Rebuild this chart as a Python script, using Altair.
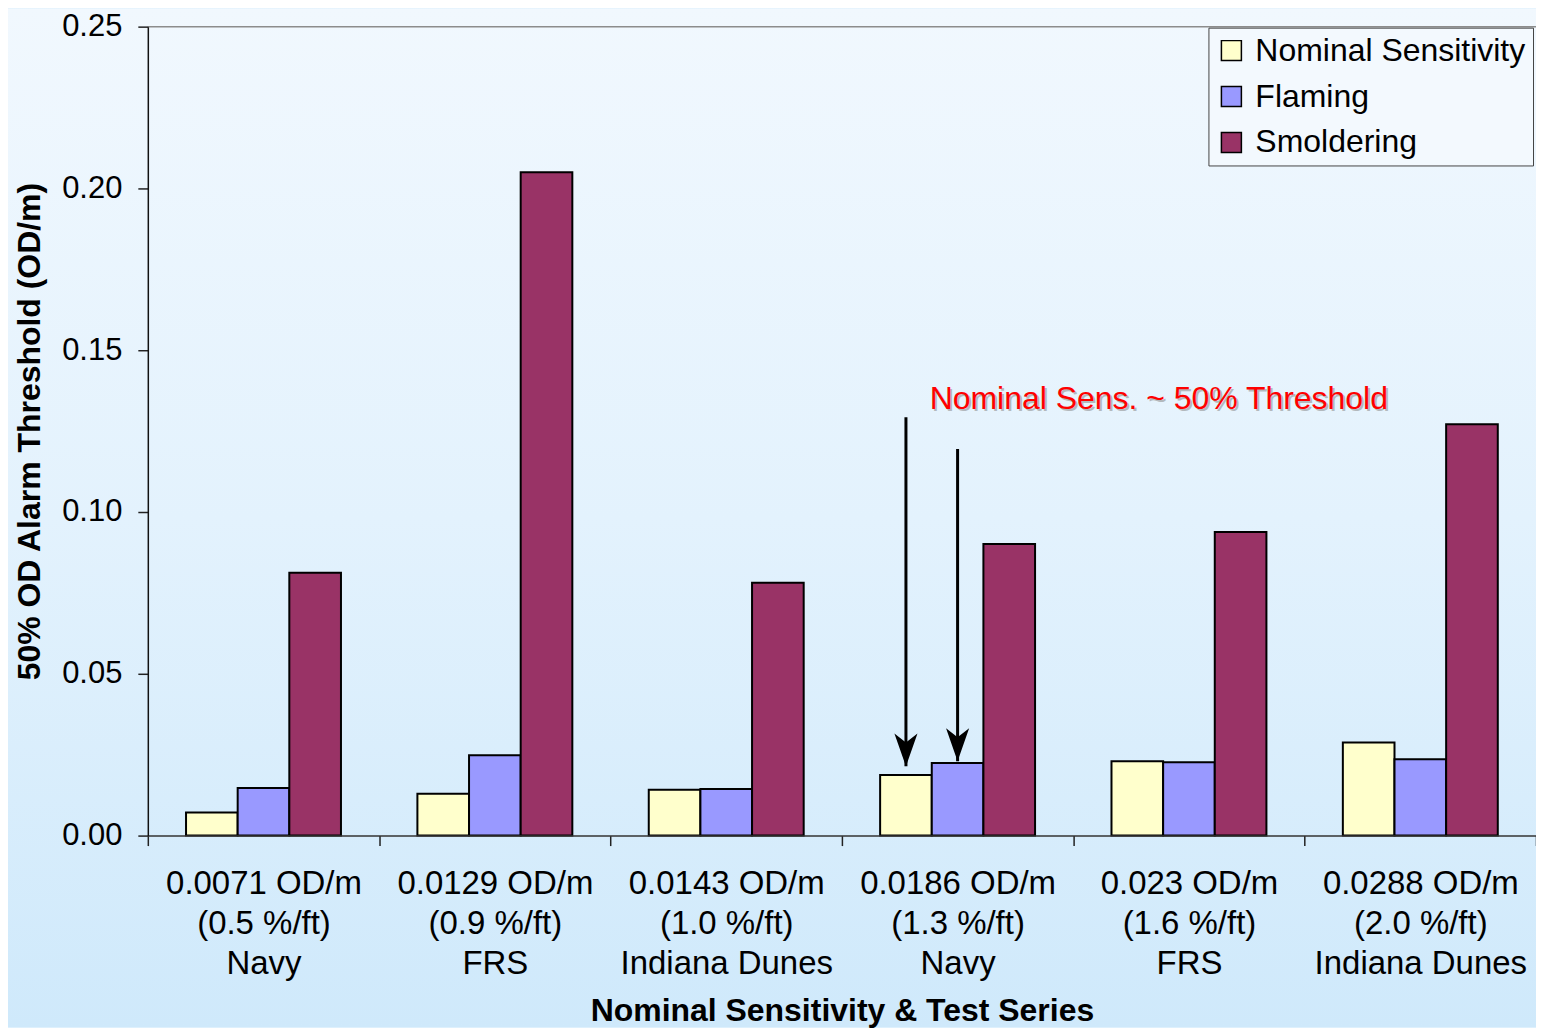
import altair as alt
import pandas as pd

categories = [
    "0.0071 OD/m|(0.5 %/ft)|Navy",
    "0.0129 OD/m|(0.9 %/ft)|FRS",
    "0.0143 OD/m|(1.0 %/ft)|Indiana Dunes",
    "0.0186 OD/m|(1.3 %/ft)|Navy",
    "0.023 OD/m|(1.6 %/ft)|FRS",
    "0.0288 OD/m|(2.0 %/ft)|Indiana Dunes",
]
series = ["Nominal Sensitivity", "Flaming", "Smoldering"]
colors = ["#FFFFCC", "#9999FF", "#993366"]

nominal = [0.0071, 0.0129, 0.0142, 0.0187, 0.0230, 0.0288]
flaming = [0.0147, 0.0248, 0.0144, 0.0224, 0.0227, 0.0236]
smoldering = [0.0812, 0.2050, 0.0781, 0.0901, 0.0938, 0.1271]

y_ticks = [0.0, 0.05, 0.10, 0.15, 0.20, 0.25]

# annotation arrows (category, series, start value, tip value)
arrow_cat = [categories[3], categories[3]]
arrow_series = ["Nominal Sensitivity", "Flaming"]
arrow_top = [0.1293, 0.1195]
arrow_tip = [0.0214, 0.0230]

note_text = "Nominal Sens. ~ 50% Threshold"
note_cat = categories[3]
note_y = 0.1348

W, H = 1390, 810
PT, PB = 18, 192
FONT = "Liberation Sans"

rows = []
for i, c in enumerate(categories):
    for s, vals in zip(series, [nominal, flaming, smoldering]):
        rows.append({"cat": c, "series": s, "value": vals[i]})
df = pd.DataFrame(rows)

arrows = pd.DataFrame({"cat": arrow_cat, "series": arrow_series,
                       "top": arrow_top, "tip": arrow_tip})
note = pd.DataFrame({"cat": [note_cat], "y": [note_y], "t": [note_text]})

x_scale = alt.Scale(domain=categories, paddingInner=0, paddingOuter=0)
xo_scale = alt.Scale(domain=series, paddingInner=0, paddingOuter=0.74)
y_scale = alt.Scale(domain=[0, 0.25], nice=False)

x_enc = alt.X(
    "cat:N", scale=x_scale, sort=categories,
    axis=alt.Axis(
        title="Nominal Sensitivity & Test Series", zindex=2,
        labelExpr="split(datum.label, '|')",
        labelAngle=0, labelFontSize=33, labelLineHeight=40,
        labelPadding=22, labelLimit=400, labelOverlap=False,
        labelColor="black", labelFont=FONT,
        tickBand="extent", tickSize=10, tickColor="#222", tickWidth=1.5,
        domainColor="#333", domainWidth=1.5,
        titleFontSize=32, titleFontWeight="bold", titleFont=FONT,
        titleColor="black", titleBaseline="alphabetic", titleY=185,
    ),
)
y_enc = alt.Y(
    "value:Q", scale=y_scale,
    axis=alt.Axis(
        title="50% OD Alarm Threshold (OD/m)", values=y_ticks, format=".2f",
        grid=False, tickSize=10, tickColor="#222", tickWidth=1.5, zindex=2,
        domainColor="#111", domainWidth=1.5,
        labelFontSize=31, labelPadding=16, labelColor="black", labelFont=FONT,
        titleFontSize=32, titleFontWeight="bold", titleFont=FONT,
        titleColor="black", titleBaseline="alphabetic", titleX=-108, titleY=H / 2,
        titleAngle=270,
    ),
)

bg = alt.Chart(pd.DataFrame({"a": [0]})).mark_rect(
    color=alt.LinearGradient(
        gradient="linear", x1=0, y1=0, x2=0, y2=1,
        stops=[alt.GradientStop(color="#f1f8fe", offset=0),
               alt.GradientStop(color="#e3f2fd", offset=0.5),
               alt.GradientStop(color="#cfe9fb", offset=1)],
    ),
    clip=False,
).encode(x=alt.value(-140), x2=alt.value(W + 10), y=alt.value(-PT), y2=alt.value(H + PB))

top_line = alt.Chart(pd.DataFrame({"a": [0]})).mark_rule(
    color="#8c8c8c", strokeWidth=1.5
).encode(x=alt.value(0), x2=alt.value(W + 10), y=alt.value(0))

bars = alt.Chart(df).mark_bar(stroke="black", strokeWidth=2).encode(
    x=x_enc,
    xOffset=alt.XOffset("series:N", scale=xo_scale, sort=series),
    y=y_enc,
    color=alt.Color(
        "series:N", scale=alt.Scale(domain=series, range=colors), sort=series,
        legend=alt.Legend(
            title=None, orient="none", legendX=1062, legendY=1, zindex=3,
            symbolType="square", symbolSize=400, symbolStrokeColor="black",
            symbolStrokeWidth=1.5, symbolOpacity=1,
            labelFontSize=32, labelFont=FONT, labelColor="black", labelOffset=8,
            labelLimit=600,
            rowPadding=14, padding=7, fillColor="#f3f9fe", strokeColor="#444",
            cornerRadius=0,
        ),
    ),
)

arrow_lines = alt.Chart(arrows).mark_rule(color="black", strokeWidth=3).encode(
    x=alt.X("cat:N", scale=x_scale, sort=categories),
    xOffset=alt.XOffset("series:N", scale=xo_scale, sort=series),
    y=alt.Y("top:Q", scale=y_scale),
    y2="tip:Q",
)

arrow_heads = alt.Chart(arrows).mark_point(
    shape="M0,0 L-0.7,-2 L0,-1.45 L0.7,-2 Z", filled=True, size=1089,
    color="black", opacity=1, strokeWidth=0,
).encode(
    x=alt.X("cat:N", scale=x_scale, sort=categories),
    xOffset=alt.XOffset("series:N", scale=xo_scale, sort=series),
    y=alt.Y("tip:Q", scale=y_scale),
)

note_shadow = alt.Chart(note).mark_text(
    align="left", baseline="middle", fontSize=32, font=FONT,
    color="#8a8a8a", opacity=0.55, dx=-26, dy=2,
).encode(x=alt.X("cat:N", scale=x_scale, sort=categories),
         y=alt.Y("y:Q", scale=y_scale), text="t:N")

note_text_mark = alt.Chart(note).mark_text(
    align="left", baseline="middle", fontSize=32, font=FONT,
    color="#ff0000", dx=-28,
).encode(x=alt.X("cat:N", scale=x_scale, sort=categories),
         y=alt.Y("y:Q", scale=y_scale), text="t:N")

chart = alt.layer(
    bg, bars, top_line, arrow_lines, arrow_heads, note_shadow, note_text_mark
).properties(
    width=W, height=H,
    autosize=alt.AutoSizeParams(type="none"),
    padding={"left": 140, "top": PT, "right": 0, "bottom": PB},
    background="#e3f2fd",
).configure_view(stroke=None).configure(font=FONT)

chart.save("out.html", embed_options={"renderer": "svg", "actions": False})
